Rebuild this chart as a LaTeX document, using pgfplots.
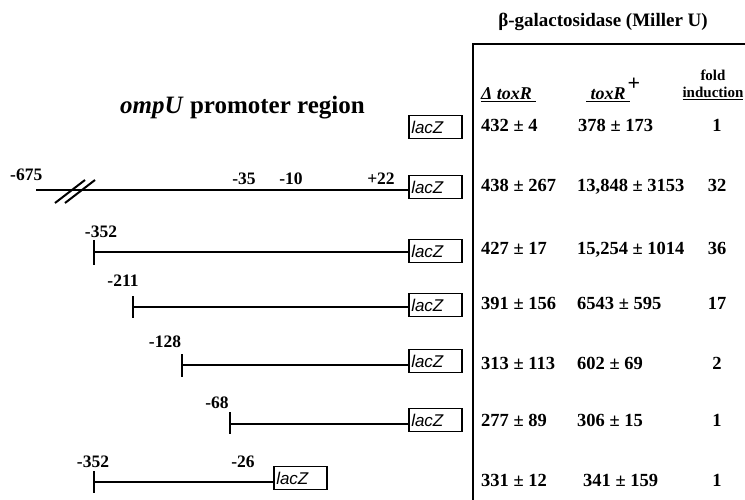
\documentclass[border=0pt]{standalone}
\usepackage{fontspec}
\setmainfont{Liberation Serif}
\newfontfamily\lz{Liberation Sans}
\usepackage{pgfplots}
\pgfplotsset{compat=1.18}
\newcommand{\fs}[1]{\fontsize{#1}{#1}\selectfont}
\tikzset{lzbox/.style={draw, line width=1.5pt, anchor=west, text width=48pt, inner xsep=2.5pt,
     inner ysep=1.5pt, text height=16.5pt, text depth=3.5pt, align=left, font=\lz\itshape\fs{17}},
  val/.style={font=\bfseries\fs{18.5}, inner sep=0pt},
  plab/.style={anchor=base, font=\bfseries\fs{17.5}, inner sep=0pt}}
\begin{document}
\begin{tikzpicture}
\begin{axis}[width=745pt,height=500pt,scale only axis,
  xmin=0,xmax=745,ymin=0,ymax=500,y dir=reverse,
  axis lines=none,ticks=none,clip=false]
% table frame
\addplot[black, line width=2pt] coordinates {(473,500) (473,44) (745,44)};
% fragments
\addplot[black, line width=2.4pt] coordinates {(36,190) (408,190)};
\addplot[black, line width=2pt] coordinates {(55,203) (85,180)};
\addplot[black, line width=2pt] coordinates {(65,203) (95,180)};
\addplot[black, line width=2pt] coordinates {(94,252) (408,252)};
\addplot[black, line width=2.4pt] coordinates {(94,240) (94,265)};
\addplot[black, line width=2pt] coordinates {(133,307) (408,307)};
\addplot[black, line width=2.4pt] coordinates {(133,296) (133,318)};
\addplot[black, line width=2pt] coordinates {(182,365) (408,365)};
\addplot[black, line width=2.4pt] coordinates {(182,354) (182,377)};
\addplot[black, line width=2pt] coordinates {(230,424) (408,424)};
\addplot[black, line width=2.4pt] coordinates {(230,412) (230,434)};
\addplot[black, line width=2pt] coordinates {(94,482) (273,482)};
\addplot[black, line width=2.4pt] coordinates {(94,471) (94,493)};
% lacZ boxes
\node[lzbox] at (axis cs:408,127) {lacZ};
\node[lzbox] at (axis cs:408,187) {lacZ};
\node[lzbox] at (axis cs:408,251) {lacZ};
\node[lzbox] at (axis cs:408,305) {lacZ};
\node[lzbox] at (axis cs:408,361) {lacZ};
\node[lzbox] at (axis cs:408,420) {lacZ};
\node[lzbox] at (axis cs:273,478) {lacZ};
% position labels
\node[plab, anchor=base west] at (axis cs:10,181) {-675};
\node[plab] at (axis cs:244,185) {-35};
\node[plab] at (axis cs:291,185) {-10};
\node[plab] at (axis cs:381,185) {+22};
\node[plab] at (axis cs:101,237) {-352};
\node[plab] at (axis cs:123,287) {-211};
\node[plab] at (axis cs:165,347) {-128};
\node[plab] at (axis cs:217,408) {-68};
\node[plab] at (axis cs:93,467) {-352};
\node[plab] at (axis cs:243,467) {-26};
% titles
\node[anchor=base west, inner sep=0pt, font=\bfseries\fs{25}] at (axis cs:120,114) {\textit{ompU} promoter region};
\node[anchor=center, inner sep=0pt, font=\bfseries\fs{19}] at (axis cs:603,22) {β-galactosidase (Miller U)};
% column headers
\node[anchor=base west, inner sep=0pt, font=\bfseries\itshape\fs{18}] at (axis cs:481,100) {\underline{Δ\ toxR\ }};
\node[anchor=base west, inner sep=0pt, font=\bfseries\itshape\fs{18}] at (axis cs:586,100) {\underline{\ toxR\ }};
\node[anchor=center, inner sep=0pt, font=\bfseries\fs{22}] at (axis cs:634,84) {+};
\node[anchor=base, inner sep=0pt, font=\bfseries\fs{15}] at (axis cs:713,81) {fold};
\node[anchor=base, inner sep=0pt, font=\bfseries\fs{15}] at (axis cs:713,98) {\underline{induction}};
% values
\node[val, anchor=base west] at (axis cs:481,131.5) {432 ± 4};
\node[val, anchor=base west] at (axis cs:578,131.5) {378 ± 173};
\node[val, anchor=base] at (axis cs:717,131.5) {1};
\node[val, anchor=base west] at (axis cs:481,191.5) {438 ± 267};
\node[val, anchor=base west] at (axis cs:577,191.5) {13,848 ± 3153};
\node[val, anchor=base] at (axis cs:717,191.5) {32};
\node[val, anchor=base west] at (axis cs:481,254.5) {427 ± 17};
\node[val, anchor=base west] at (axis cs:577,254.5) {15,254 ± 1014};
\node[val, anchor=base] at (axis cs:717,254.5) {36};
\node[val, anchor=base west] at (axis cs:481,309.5) {391 ± 156};
\node[val, anchor=base west] at (axis cs:577,309.5) {6543 ± 595};
\node[val, anchor=base] at (axis cs:717,309.5) {17};
\node[val, anchor=base west] at (axis cs:481,369.5) {313 ± 113};
\node[val, anchor=base west] at (axis cs:577,369.5) {602 ± 69};
\node[val, anchor=base] at (axis cs:717,369.5) {2};
\node[val, anchor=base west] at (axis cs:481,426.5) {277 ± 89};
\node[val, anchor=base west] at (axis cs:577,426.5) {306 ± 15};
\node[val, anchor=base] at (axis cs:717,426.5) {1};
\node[val, anchor=base west] at (axis cs:481,486.5) {331 ± 12};
\node[val, anchor=base west] at (axis cs:583,486.5) {341 ± 159};
\node[val, anchor=base] at (axis cs:717,486.5) {1};
\end{axis}
\pgfresetboundingbox
\path (current axis.south west) rectangle (current axis.north east);
\end{tikzpicture}
\end{document}
